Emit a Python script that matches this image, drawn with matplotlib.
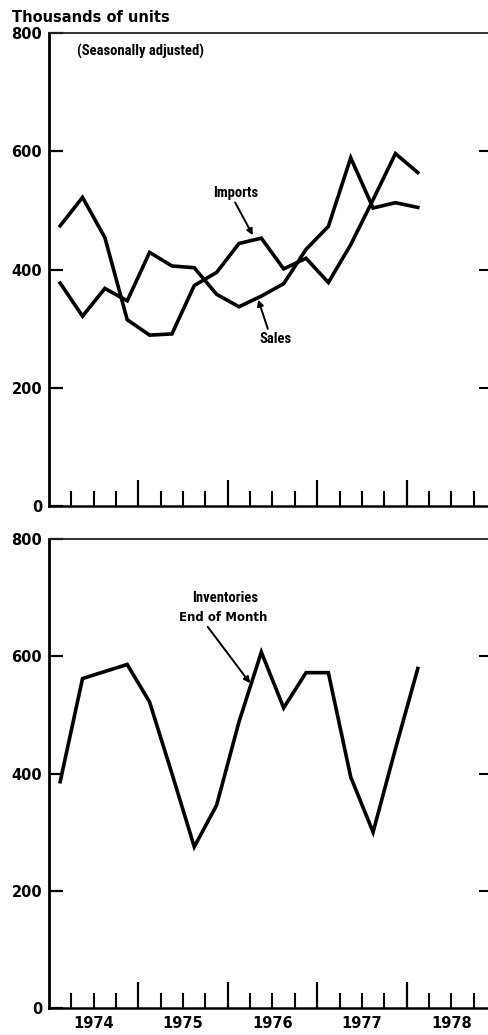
import matplotlib
matplotlib.use("Agg")
import matplotlib.pyplot as plt
from matplotlib import font_manager as fm

# ---- data (thousands of units, quarterly) ----
quarters = [1974.125, 1974.375, 1974.625, 1974.875,
            1975.125, 1975.375, 1975.625, 1975.875,
            1976.125, 1976.375, 1976.625, 1976.875,
            1977.125, 1977.375, 1977.625, 1977.875,
            1978.125]
imports = [474, 522, 454, 315, 289, 291, 373, 395, 444, 453, 401, 419,
           378, 442, 518, 596, 564]
sales = [377, 321, 368, 347, 429, 406, 403, 358, 337, 355, 376, 434,
         473, 589, 504, 513, 505]
inventories = [386, 562, 574, 586, 522, 400, 275, 346, 488, 607, 512, 572,
               572, 394, 300, 442, 579]
years = [1974, 1975, 1976, 1977, 1978]
year_labels = ["1974", "1975", "1976", "1977", "1978"]
y_ticks = [0, 200, 400, 600, 800]
y_ticklabels = ["0", "200", "400", "600", "800"]

names = {f.name for f in fm.fontManager.ttflist}
narrow = [f for f in ["Liberation Sans Narrow", "DejaVu Sans Condensed", "Roboto Condensed"] if f in names]
narrow_family = narrow + ["DejaVu Sans"]
bold_family = ["DejaVu Sans"]

fig = plt.figure(figsize=(4.89, 10.35), dpi=100)
W, H = 489.0, 1035.0
x0 = 49 / W
xmax = 1974 + (489 - 49) / 89.4

def style_axes(ax, ylo_px, yhi_px, show_labels):
    ax.set_position([x0, 1 - ylo_px / H, 1 - x0, (ylo_px - yhi_px) / H])
    ax.set_xlim(1974, xmax)
    ax.set_ylim(0, 800)
    ax.spines["right"].set_visible(False)
    ax.spines["left"].set_linewidth(2.0)
    ax.spines["bottom"].set_linewidth(1.8)
    ax.spines["top"].set_linewidth(1.3)
    ax.spines["top"].set_color("#222222")
    ax.set_yticks(y_ticks)
    ax.set_yticklabels(y_ticklabels, fontsize=10.5, fontweight="bold", family=bold_family)
    ax.tick_params(axis="y", direction="in", length=10, width=1.6, pad=5)
    # quarter tick marks
    quarter_marks = [y + q for y in years for q in (0.25, 0.5, 0.75)]
    ax.set_xticks(quarter_marks)
    ax.set_xticklabels([])
    ax.tick_params(axis="x", which="major", direction="in", length=11, width=1.5)
    # year boundary tick marks (taller)
    sec = ax.secondary_xaxis("bottom")
    sec.set_xticks(years[1:])
    sec.tick_params(direction="in", length=18.5, width=1.6, labelbottom=False)
    sec.spines["bottom"].set_visible(False)
    # year labels at mid-year
    if show_labels:
        lab = ax.secondary_xaxis("bottom")
        lab.set_xticks([y + 0.5 for y in years])
        lab.set_xticklabels(year_labels, fontsize=10.5, fontweight="bold", family=bold_family)
        lab.tick_params(length=0, pad=6)
        lab.spines["bottom"].set_visible(False)
    # right-side ticks
    ax2 = ax.twinx()
    ax2.set_ylim(0, 800)
    ax2.set_yticks([200, 400, 600])
    ax2.tick_params(axis="y", direction="in", length=7, width=1.5, labelright=False)
    for s in ax2.spines.values():
        s.set_visible(False)
    ax.set_zorder(ax2.get_zorder() + 1)
    ax.patch.set_visible(False)

ax1 = fig.add_axes([0.1, 0.5, 0.9, 0.45])
ax3 = fig.add_axes([0.1, 0.03, 0.9, 0.45])
style_axes(ax1, 506, 33, False)
style_axes(ax3, 1008, 539, True)

lw = 2.6
ax1.plot(quarters, imports, color="black", lw=lw, solid_joinstyle="miter")
ax1.plot(quarters, sales, color="black", lw=lw, solid_joinstyle="miter")
ax3.plot(quarters, inventories, color="black", lw=lw, solid_joinstyle="miter")

arrow = dict(arrowstyle="-|>", color="black", lw=1.4, mutation_scale=9, shrinkA=0, shrinkB=0)
lab_fs = 10.5

ax1.text(1974.31, 768, "(Seasonally adjusted)", fontsize=lab_fs, fontweight="bold",
         family=narrow_family, ha="left", va="center")
ax1.annotate("Imports", xy=(1976.28, 458), xytext=(1976.09, 530),
             fontsize=lab_fs, fontweight="bold", family=narrow_family, ha="center", va="center",
             arrowprops=dict(arrow, relpos=(0.45, 0.0)))
ax1.annotate("Sales", xy=(1976.34, 349), xytext=(1976.53, 283),
             fontsize=lab_fs, fontweight="bold", family=narrow_family, ha="center", va="center",
             arrowprops=dict(arrow, relpos=(0.3, 1.0)))

ax3.text(1975.97, 699, "Inventories", fontsize=lab_fs, fontweight="bold",
         family=narrow_family, ha="center", va="center")
ax3.annotate("End of Month", xy=(1976.25, 554), xytext=(1975.95, 666),
             fontsize=8.5, fontweight="bold", family=bold_family, ha="center", va="center",
             arrowprops=dict(arrow, relpos=(0.3, 0.0)))

fig.text(12 / W, 1 - 17 / H, "Thousands of units", fontsize=10.5, fontweight="bold",
         family=bold_family, ha="left", va="center")

fig.savefig("out.png", dpi=100)
